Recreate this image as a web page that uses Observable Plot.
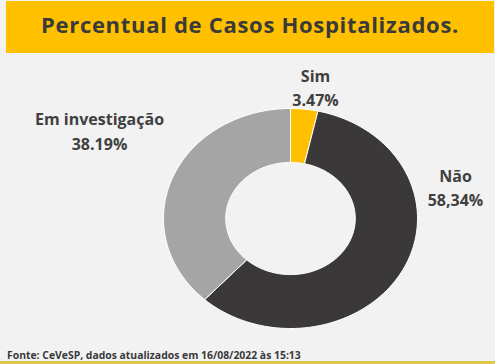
<!DOCTYPE html>
<html><head><meta charset="utf-8">
<script src="https://cdn.jsdelivr.net/npm/d3@7"></script>
<script src="https://cdn.jsdelivr.net/npm/@observablehq/plot@0.6"></script>
<style>
html,body{margin:0;padding:0;background:#f2f2f2;width:495px;height:364px;overflow:hidden;position:relative;font-family:"Open Sans",sans-serif}
#title{position:absolute;left:6px;top:1px;width:488px;height:52px;background:#FFC000;color:#3a3a3a;font-weight:700;font-size:22px;letter-spacing:0.7px;display:flex;align-items:center;justify-content:center;box-sizing:border-box;padding-bottom:7px}
#chart{position:absolute;left:0;top:56px}
#caption{position:absolute;left:7px;top:348px;font-size:10.4px;font-weight:700;color:#3a3a3a;white-space:nowrap}
#rule{position:absolute;left:0;top:361px;width:495px;height:3px;background:#dcc84a}
</style></head>
<body>
<div id="title">Percentual de Casos Hospitalizados.</div>
<div id="chart"></div>
<div id="caption">Fonte: CeVeSP, dados atualizados em 16/08/2022 às 15:13</div>
<div id="rule"></div>
<script>
const categories = ["Sim", "Não", "Em investigação"];
const values = [3.47, 58.34, 38.19];
const valueLabels = ["3.47%", "58,34%", "38.19%"];
const colors = ["#FFC000", "#3a3838", "#a5a5a5"];

// layout (data units, not data values)
const labelAt = {"Sim": [0.197, 1.2045], "Não": [1.299, 0.295], "Em investigação": [-1.504, 0.812]};
const rIn = 0.51;

const total = d3.sum(values);
const slices = [];
let cum = 0;
categories.forEach((c, i) => {
  const a0 = cum / total * 2 * Math.PI; cum += values[i]; const a1 = cum / total * 2 * Math.PI;
  const n = Math.max(2, Math.ceil((a1 - a0) / (2 * Math.PI) * 240));
  const pts = [];
  for (let k = 0; k <= n; k++) { const a = a0 + (a1 - a0) * k / n; pts.push({c, x: Math.sin(a), y: Math.cos(a)}); }
  for (let k = n; k >= 0; k--) { const a = a0 + (a1 - a0) * k / n; pts.push({c, x: rIn * Math.sin(a), y: rIn * Math.cos(a)}); }
  pts.push({...pts[0]});
  slices.push(...pts);
});
const labels = categories.map((c, i) => ({c, text: c + "\n" + valueLabels[i], x: labelAt[c][0], y: labelAt[c][1]}));

const chart = Plot.plot({
  width: 495, height: 284, margin: 0,
  x: {domain: [-2.2835, 1.614], axis: null},
  y: {domain: [-1.109, 1.4727], axis: null},
  color: {domain: categories, range: colors},
  style: {background: "transparent", overflow: "visible"},
  marks: [
    Plot.line(slices, {x: "x", y: "y", z: "c", fill: "c", stroke: "white", strokeWidth: 1, curve: "linear"}),
    Plot.text(labels, {x: "x", y: "y", text: "text", lineAnchor: "middle", lineHeight: 1.55, fontSize: 16, fontWeight: 700, fill: "#404040", fontFamily: "Open Sans"})
  ]
});
document.getElementById("chart").appendChild(chart);
</script>
</body></html>
